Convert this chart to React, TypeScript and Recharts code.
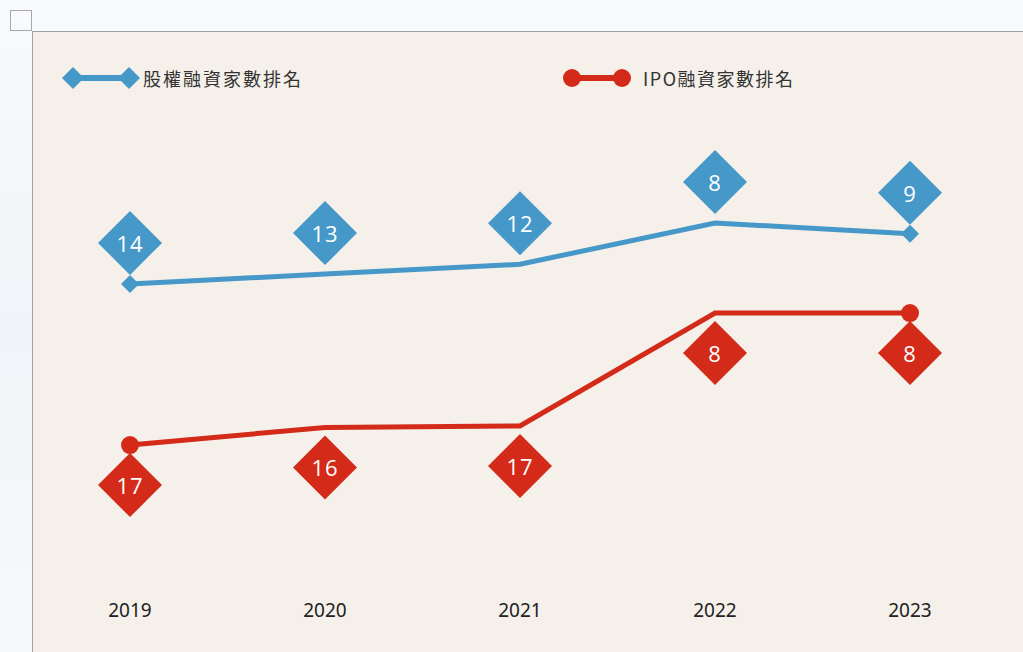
import React from 'react';
import { LineChart, Line, XAxis, YAxis, Legend, LabelList } from 'recharts';

const years = ['2019', '2020', '2021', '2022', '2023'];
// line positions (rank scale)
const equityLine = [14, 13, 12, 7.8, 8.9];
const ipoLine = [17, 15.8, 15.7, 8, 8];
// ranks shown in the diamond labels
const equityRank = [14, 13, 12, 8, 9];
const ipoRank = [17, 16, 17, 8, 8];

const BLUE = '#4698c9';
const RED = '#d42a1a';
const EQUITY_NAME = '股權融資家數排名';
const IPO_NAME = 'IPO融資家數排名';

const data = years.map((y, i) => ({
  year: y,
  equity: equityLine[i],
  ipo: ipoLine[i],
  equityRank: equityRank[i],
  ipoRank: ipoRank[i],
}));

const last = years.length - 1;

const DiamondLabel = (color: string, offset: number) => (props: any) => {
  const { x, y, value } = props;
  if (x == null || y == null) return null;
  const cx = x;
  const cy = y + offset;
  const h = 32;
  return (
    <g>
      <polygon
        points={`${cx},${cy - h} ${cx + h},${cy} ${cx},${cy + h} ${cx - h},${cy}`}
        fill={color}
      />
      <text
        x={cx}
        y={cy}
        textAnchor="middle"
        dominantBaseline="central"
        fill="#ffffff"
        fontSize={22}
        fontFamily="'Open Sans', 'Noto Sans', sans-serif"
        letterSpacing={1}
      >
        {value}
      </text>
    </g>
  );
};

const BlueDot = (props: any) => {
  const { cx, cy, index } = props;
  if (index !== 0 && index !== last) return <g key={`bd${index}`} />;
  const h = 9;
  return (
    <polygon
      key={`bd${index}`}
      points={`${cx},${cy - h} ${cx + h},${cy} ${cx},${cy + h} ${cx - h},${cy}`}
      fill={BLUE}
    />
  );
};

const RedDot = (props: any) => {
  const { cx, cy, index } = props;
  if (index !== 0 && index !== last) return <g key={`rd${index}`} />;
  return <circle key={`rd${index}`} cx={cx} cy={cy} r={9} fill={RED} />;
};

const LegendContent = () => (
  <div style={{ position: 'relative', width: 900, height: 0, overflow: 'visible' }}>
    <svg width={900} height={30} style={{ position: 'absolute', left: 0, top: 0, overflow: 'visible' }}>
      <line x1={40} y1={15} x2={96} y2={15} stroke={BLUE} strokeWidth={6} />
      <polygon points="40,4 51,15 40,26 29,15" fill={BLUE} />
      <polygon points="96,4 107,15 96,26 85,15" fill={BLUE} />
      <text x={110} y={15} dominantBaseline="central" fontSize={18} fill="#333" letterSpacing={2}
        fontFamily="'Noto Sans CJK TC', 'Noto Sans', sans-serif">{EQUITY_NAME}</text>
      <line x1={539} y1={15} x2={589} y2={15} stroke={RED} strokeWidth={6} />
      <circle cx={539} cy={15} r={9} fill={RED} />
      <circle cx={589} cy={15} r={9} fill={RED} />
      <text x={610} y={15} dominantBaseline="central" fontSize={18} fill="#333" letterSpacing={1.5}
        fontFamily="'Noto Sans CJK TC', 'Noto Sans', sans-serif">{IPO_NAME}</text>
    </svg>
  </div>
);

export default function App() {
  return (
    <div
      style={{
        position: 'absolute',
        left: 0,
        top: 0,
        width: 1023,
        height: 652,
        overflow: 'hidden',
        background: 'linear-gradient(180deg, #f8fafc 0%, #f1f4f8 50%, #f7f9fb 100%)',
      }}
    >
      <div
        style={{
          position: 'absolute',
          left: 10,
          top: 10,
          width: 22,
          height: 21,
          border: '1px solid #a8a8a8',
          boxSizing: 'border-box',
        }}
      />
      <div
        style={{
          position: 'absolute',
          left: 32,
          top: 31,
          width: 991,
          height: 621,
          background: '#f5f0e9',
          borderTop: '1px solid #a0a0a0',
          borderLeft: '1px solid #a0a0a0',
          boxSizing: 'border-box',
        }}
      />
      <div style={{ position: 'absolute', left: 33, top: 32 }}>
        <LineChart
          width={990}
          height={620}
          data={data}
          margin={{ top: 20, right: 113, bottom: 0, left: 97 }}
        >
          <XAxis
            dataKey="year"
            axisLine={false}
            tickLine={false}
            tickSize={0}
            tickMargin={12}
            height={60}
            tick={{ fill: '#222', fontSize: 19, fontFamily: "'Noto Sans', sans-serif" }}
            interval={0}
          />
          <YAxis yAxisId="eq" hide reversed domain={[-9.59, 45.33]} type="number" allowDataOverflow />
          <YAxis yAxisId="ipo" hide reversed domain={[-9.8, 27.02]} type="number" allowDataOverflow />
          <Legend
            verticalAlign="top"
            content={<LegendContent />}
            wrapperStyle={{ position: 'absolute', left: 0, top: 31, width: 900, height: 0, overflow: 'visible' }}
          />
          <Line
            yAxisId="eq"
            type="linear"
            dataKey="equity"
            name={EQUITY_NAME}
            stroke={BLUE}
            strokeWidth={5}
            dot={<BlueDot />}
            activeDot={false}
            isAnimationActive={false}
          >
            <LabelList dataKey="equityRank" content={DiamondLabel(BLUE, -41)} />
          </Line>
          <Line
            yAxisId="ipo"
            type="linear"
            dataKey="ipo"
            name={IPO_NAME}
            stroke={RED}
            strokeWidth={5}
            dot={<RedDot />}
            activeDot={false}
            isAnimationActive={false}
          >
            <LabelList dataKey="ipoRank" content={DiamondLabel(RED, 40)} />
          </Line>
        </LineChart>
      </div>
    </div>
  );
}
